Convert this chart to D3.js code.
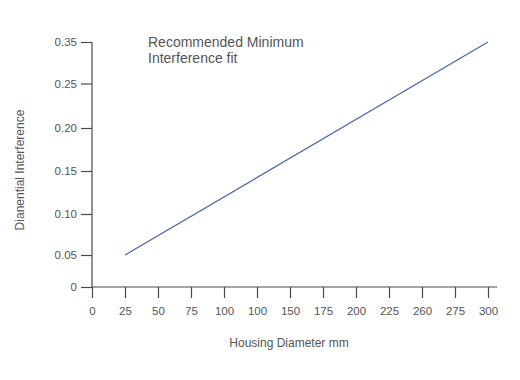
<!DOCTYPE html>
<html>
<head>
<meta charset="utf-8">
<script src="https://cdn.jsdelivr.net/npm/d3@7"></script>
<style>
  html, body { margin: 0; padding: 0; background: #fff; }
  svg { display: block; font-family: "Liberation Sans", Arial, sans-serif; }
</style>
</head>
<body>
<svg id="chart" width="520" height="380"></svg>
<script>
// ---- data ----
const xTickValues = [0, 25, 50, 75, 100, 125, 150, 175, 200, 225, 250, 275, 300];
const xTickLabels = ["0", "25", "50", "75", "100", "100", "150", "175", "200", "225", "260", "275", "300"];
const yTickValues = [0, 0.05, 0.10, 0.15, 0.20, 0.25, 0.35];
const yTickLabels = ["0", "0.05", "0.10", "0.15", "0.20", "0.25", "0.35"];
const diameters = [25, 300];
const interference = [0.05, 0.35];
const titleLines = ["Recommended Minimum", "Interference fit"];
const xTitle = "Housing Diameter mm";
const yTitle = "Dianential Interference";

// ---- layout ----
const svg = d3.select("#chart");
const axisColor = "#4a4a4a";
const textColor = "#555";
const lineColor = "#4a6aa5";

const x = d3.scaleLinear().domain([0, 300]).range([92, 488]);
// the reference axis is unevenly spaced; piecewise-linear scale through tick positions
const y = d3.scaleLinear().domain(yTickValues).range([287, 255, 214, 171, 128, 83.5, 42]);

const xAxis = d3.axisBottom(x)
  .tickValues(xTickValues)
  .tickFormat((d, i) => xTickLabels[i])
  .tickSize(11).tickSizeOuter(0).tickPadding(9);
const yAxis = d3.axisLeft(y)
  .tickValues(yTickValues)
  .tickFormat((d, i) => yTickLabels[i])
  .tickSize(11).tickSizeOuter(0).tickPadding(4);

const gx = svg.append("g").attr("transform", `translate(0,${y(0)})`).call(xAxis);
const gy = svg.append("g").attr("transform", `translate(${x(0)},0)`).call(yAxis);

[gx, gy].forEach(g => {
  g.select(".domain").remove();
  g.selectAll(".tick line").attr("stroke", axisColor).attr("stroke-width", 1.2);
  g.selectAll(".tick text").attr("fill", textColor).style("font-size", "11.5px")
    .style("font-family", "Liberation Sans, Arial, sans-serif");
});

// axis lines (x-axis extends slightly past the last tick)
svg.append("line")
  .attr("x1", x(0)).attr("x2", x(300) + 9)
  .attr("y1", y(0)).attr("y2", y(0))
  .attr("stroke", axisColor).attr("stroke-width", 1.2);
svg.append("line")
  .attr("x1", x(0)).attr("x2", x(0))
  .attr("y1", y(0.35)).attr("y2", y(0))
  .attr("stroke", axisColor).attr("stroke-width", 1.2);

// data line
const pts = diameters.map((d, i) => [d, interference[i]]);
svg.append("path")
  .datum(pts)
  .attr("fill", "none")
  .attr("stroke", lineColor)
  .attr("stroke-width", 1.3)
  .attr("d", d3.line().x(d => x(d[0])).y(d => y(d[1])));

// titles
const t = svg.append("text").attr("x", 148).attr("y", 47)
  .attr("fill", textColor).style("font-size", "14px");
titleLines.forEach((l, i) => {
  t.append("tspan").attr("x", 148).attr("dy", i === 0 ? 0 : 16).text(l);
});

svg.append("text")
  .attr("x", 289).attr("y", 347)
  .attr("text-anchor", "middle")
  .attr("fill", textColor).style("font-size", "12px")
  .text(xTitle);

svg.append("text")
  .attr("transform", "translate(24,170) rotate(-90)")
  .attr("text-anchor", "middle")
  .attr("fill", textColor).style("font-size", "12px")
  .text(yTitle);
</script>
</body>
</html>
